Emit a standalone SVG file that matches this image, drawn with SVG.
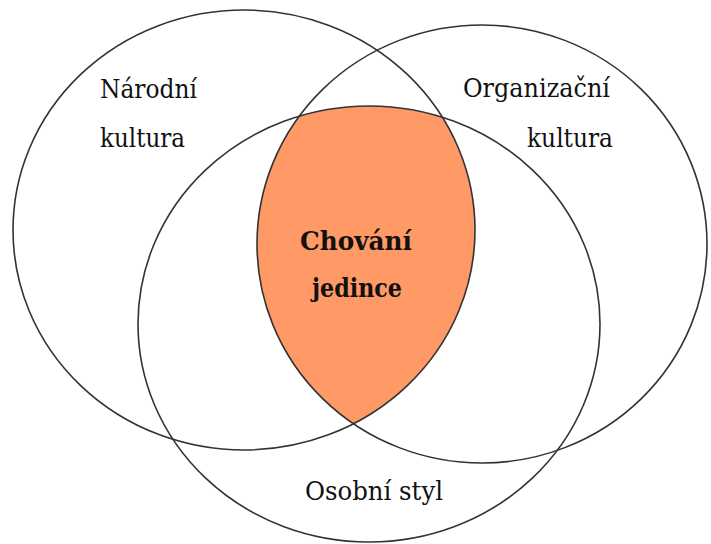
<svg xmlns="http://www.w3.org/2000/svg" width="711" height="544" viewBox="0 0 711 544">
<style>
.c{fill:none;stroke:#333;stroke-width:1.6}
.t{font-family:'DejaVu Serif','Liberation Serif',serif;font-size:26px;fill:#111}
.b{font-weight:bold}
</style>
<defs>
<clipPath id="clipL"><ellipse cx="244" cy="230" rx="231" ry="220"/></clipPath>
<clipPath id="clipR"><ellipse cx="482" cy="244" rx="225" ry="219"/></clipPath>
</defs>
<rect width="711" height="544" fill="#fff"/>
<g id="intersection">
<g clip-path="url(#clipL)">
<g clip-path="url(#clipR)">
<ellipse cx="369" cy="324" rx="231" ry="218" fill="#FF9966"/>
</g>
</g>
</g>
<g id="narodni">
<ellipse class="c" cx="244" cy="230" rx="231" ry="220"/>
<text class="t" x="100" y="98" textLength="97" lengthAdjust="spacingAndGlyphs">Národní</text>
<text class="t" x="100" y="147" textLength="85" lengthAdjust="spacingAndGlyphs">kultura</text>
</g>
<g id="organizacni">
<ellipse class="c" cx="482" cy="244" rx="225" ry="219"/>
<text class="t" x="463" y="97" textLength="147" lengthAdjust="spacingAndGlyphs">Organizační</text>
<text class="t" x="527" y="147" textLength="86" lengthAdjust="spacingAndGlyphs">kultura</text>
</g>
<g id="osobni">
<ellipse class="c" cx="369" cy="324" rx="231" ry="218"/>
<text class="t" x="305" y="500" textLength="138" lengthAdjust="spacingAndGlyphs">Osobní styl</text>
</g>
<g id="chovani">
<text class="t b" x="300" y="250" textLength="112" lengthAdjust="spacingAndGlyphs">Chování</text>
<text class="t b" x="312" y="297" textLength="90" lengthAdjust="spacingAndGlyphs">jedince</text>
</g>
</svg>
